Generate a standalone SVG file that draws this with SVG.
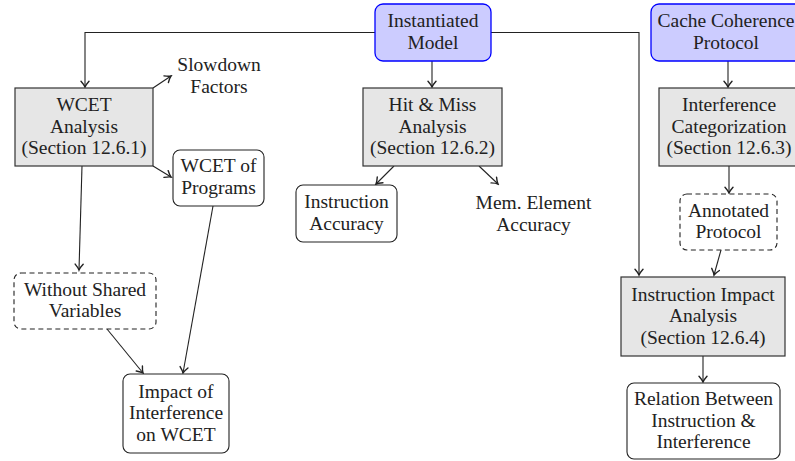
<svg xmlns="http://www.w3.org/2000/svg" width="795" height="461" viewBox="0 0 795 461">
  <style>
    .lbl { font-family: 'Liberation Serif', 'Times New Roman', 'DejaVu Serif', serif; font-size: 19.5px; fill: #222; text-anchor: middle; }
    .blue { fill: #ccccff; stroke: #0000ff; stroke-width: 1.3; }
    .gray { fill: #e6e6e6; stroke: #333; stroke-width: 1.2; }
    .plain { fill: #fff; stroke: #222; stroke-width: 1.1; }
    .dash { fill: #fff; stroke: #222; stroke-width: 1.1; stroke-dasharray: 5 3.5; }
    .edge { fill: none; stroke: #222; stroke-width: 1.1; marker-end: url(#arr); }
  </style>
  <defs>
    <!-- curved barb arrow tip -->
    <marker id="arr" markerWidth="10" markerHeight="10" refX="0" refY="0" viewBox="-7 -5 8 10" orient="auto" markerUnits="userSpaceOnUse">
      <path d="M-5.8,-4 Q-2,-0.7 0,0 Q-2,0.7 -5.8,4" fill="none" stroke="#222" stroke-width="1.4" stroke-linecap="round"/>
    </marker>
  </defs>

  <rect width="795" height="461" fill="#fff"/>

  <!-- connectors -->
  <g id="connectors">
    <path class="edge" d="M375,32.5 H85 V87"/>
    <path class="edge" d="M491,32.5 H639 V275"/>
    <path class="edge" d="M432,61 V87"/>
    <path class="edge" d="M728,61 V87"/>
    <path class="edge" d="M153,88 L171,76"/>
    <path class="edge" d="M153,166 L171,177"/>
    <path class="edge" d="M82,166 L79,270"/>
    <path class="edge" d="M394,166 L376,184"/>
    <path class="edge" d="M479,166 L498,184"/>
    <path class="edge" d="M729,166 V193"/>
    <path class="edge" d="M721,250 L714,275"/>
    <path class="edge" d="M703,356 V382"/>
    <path class="edge" d="M107,329 L143,373"/>
    <path class="edge" d="M213,206 L183,373"/>
  </g>

  <g id="instantiated-model">
    <rect class="blue" x="375" y="4" width="116" height="57" rx="8"/>
    <text class="lbl" x="433" y="27">Instantiated</text>
    <text class="lbl" x="433" y="48.5">Model</text>
  </g>

  <g id="cache-coherence-protocol">
    <rect class="blue" x="651" y="4" width="154" height="57" rx="8"/>
    <text class="lbl" x="726" y="27">Cache Coherence</text>
    <text class="lbl" x="726" y="48.5">Protocol</text>
  </g>

  <g id="wcet-analysis">
    <rect class="gray" x="15" y="88" width="138" height="78"/>
    <text class="lbl" x="84" y="111">WCET</text>
    <text class="lbl" x="84" y="132.5">Analysis</text>
    <text class="lbl" x="84" y="154">(Section 12.6.1)</text>
  </g>

  <g id="slowdown-factors">
    <text class="lbl" x="219" y="71">Slowdown</text>
    <text class="lbl" x="219" y="92.5">Factors</text>
  </g>

  <g id="hit-miss-analysis">
    <rect class="gray" x="363" y="88" width="139" height="78"/>
    <text class="lbl" x="432.5" y="111">Hit &amp; Miss</text>
    <text class="lbl" x="432.5" y="132.5">Analysis</text>
    <text class="lbl" x="432.5" y="154">(Section 12.6.2)</text>
  </g>

  <g id="interference-categorization">
    <rect class="gray" x="659" y="88" width="140" height="78"/>
    <text class="lbl" x="729" y="111">Interference</text>
    <text class="lbl" x="729" y="132.5">Categorization</text>
    <text class="lbl" x="729" y="154">(Section 12.6.3)</text>
  </g>

  <g id="wcet-of-programs">
    <rect class="plain" x="173" y="150" width="91" height="56" rx="7"/>
    <text class="lbl" x="218.5" y="172">WCET of</text>
    <text class="lbl" x="218.5" y="193.5">Programs</text>
  </g>

  <g id="instruction-accuracy">
    <rect class="plain" x="296" y="185" width="101" height="57" rx="7"/>
    <text class="lbl" x="346.5" y="208">Instruction</text>
    <text class="lbl" x="346.5" y="229.5">Accuracy</text>
  </g>

  <g id="mem-element-accuracy">
    <text class="lbl" x="533.5" y="209">Mem. Element</text>
    <text class="lbl" x="533.5" y="230.5">Accuracy</text>
  </g>

  <g id="annotated-protocol">
    <rect class="dash" x="680" y="194" width="97" height="56" rx="7"/>
    <text class="lbl" x="728.5" y="216.5">Annotated</text>
    <text class="lbl" x="728.5" y="238">Protocol</text>
  </g>

  <g id="without-shared-variables">
    <rect class="dash" x="14" y="273" width="142" height="56" rx="7"/>
    <text class="lbl" x="85" y="295.5">Without Shared</text>
    <text class="lbl" x="85" y="317">Variables</text>
  </g>

  <g id="instruction-impact-analysis">
    <rect class="gray" x="621" y="277" width="164" height="79"/>
    <text class="lbl" x="703" y="300.5">Instruction Impact</text>
    <text class="lbl" x="703" y="322">Analysis</text>
    <text class="lbl" x="703" y="343.5">(Section 12.6.4)</text>
  </g>

  <g id="impact-of-interference">
    <rect class="plain" x="123" y="374" width="106" height="79" rx="7"/>
    <text class="lbl" x="176" y="397.5">Impact of</text>
    <text class="lbl" x="176" y="419">Interference</text>
    <text class="lbl" x="176" y="440.5">on WCET</text>
  </g>

  <g id="relation-between">
    <rect class="plain" x="627" y="383" width="153" height="76" rx="7"/>
    <text class="lbl" x="703.5" y="405">Relation Between</text>
    <text class="lbl" x="703.5" y="426.5">Instruction &amp;</text>
    <text class="lbl" x="703.5" y="448">Interference</text>
  </g>
</svg>
